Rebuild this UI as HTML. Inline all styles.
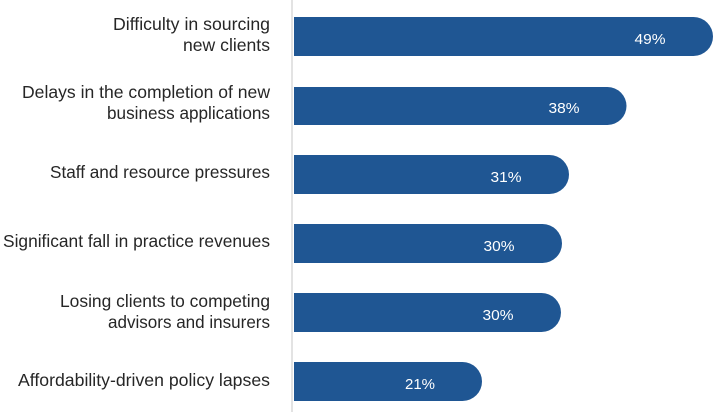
<!DOCTYPE html>
<html>
<head>
<meta charset="utf-8">
<style>
  html, body { margin: 0; padding: 0; background: #ffffff; }
  svg { display: block; }
  .lbl { font-family: "Liberation Sans", sans-serif; font-size: 17.5px; fill: #262626; }
  .val { font-family: "Liberation Sans", sans-serif; font-size: 14.5px; fill: #ffffff; }
</style>
</head>
<body>
<svg width="718" height="412" viewBox="0 0 718 412" xmlns="http://www.w3.org/2000/svg">
  <rect x="0" y="0" width="718" height="412" fill="#ffffff"/>
  <!-- axis line -->
  <rect x="291" y="0" width="2" height="412" fill="#e3e3e3"/>

  <!-- bars -->
  <g fill="#1F5693">
    <path d="M294,17 H693.5 A19.5,19.5 0 0 1 693.5,56 H294 Z"/>
    <path d="M294,87 H607.5 A19,19 0 0 1 607.5,125 H294 Z"/>
    <path d="M294,155 H549.5 A19.5,19.5 0 0 1 549.5,194 H294 Z"/>
    <path d="M294,224 H542.5 A19.5,19.5 0 0 1 542.5,263 H294 Z"/>
    <path d="M294,293 H541.5 A19.5,19.5 0 0 1 541.5,332 H294 Z"/>
    <path d="M294,362 H462.5 A19.5,19.5 0 0 1 462.5,401 H294 Z"/>
  </g>

  <!-- value labels -->
  <text class="val" x="650" y="44" text-anchor="middle" textLength="31" lengthAdjust="spacingAndGlyphs">49%</text>
  <text class="val" x="564" y="113" text-anchor="middle" textLength="31" lengthAdjust="spacingAndGlyphs">38%</text>
  <text class="val" x="506" y="182" text-anchor="middle" textLength="31" lengthAdjust="spacingAndGlyphs">31%</text>
  <text class="val" x="499" y="251" text-anchor="middle" textLength="31" lengthAdjust="spacingAndGlyphs">30%</text>
  <text class="val" x="498" y="320" text-anchor="middle" textLength="31" lengthAdjust="spacingAndGlyphs">30%</text>
  <text class="val" x="420" y="389" text-anchor="middle" textLength="30" lengthAdjust="spacingAndGlyphs">21%</text>

  <!-- category labels -->
  <text class="lbl" x="270" y="30" text-anchor="end" textLength="157" lengthAdjust="spacingAndGlyphs">Difficulty in sourcing</text>
  <text class="lbl" x="270" y="51" text-anchor="end" textLength="87" lengthAdjust="spacingAndGlyphs">new clients</text>

  <text class="lbl" x="270" y="98" text-anchor="end" textLength="248" lengthAdjust="spacingAndGlyphs">Delays in the completion of new</text>
  <text class="lbl" x="270" y="119" text-anchor="end" textLength="163" lengthAdjust="spacingAndGlyphs">business applications</text>

  <text class="lbl" x="270" y="178" text-anchor="end" textLength="220" lengthAdjust="spacingAndGlyphs">Staff and resource pressures</text>

  <text class="lbl" x="270" y="247" text-anchor="end" textLength="267" lengthAdjust="spacingAndGlyphs">Significant fall in practice revenues</text>

  <text class="lbl" x="270" y="307" text-anchor="end" textLength="210" lengthAdjust="spacingAndGlyphs">Losing clients to competing</text>
  <text class="lbl" x="270" y="328" text-anchor="end" textLength="162" lengthAdjust="spacingAndGlyphs">advisors and insurers</text>

  <text class="lbl" x="270" y="386" text-anchor="end" textLength="252" lengthAdjust="spacingAndGlyphs">Affordability-driven policy lapses</text>
</svg>
</body>
</html>
